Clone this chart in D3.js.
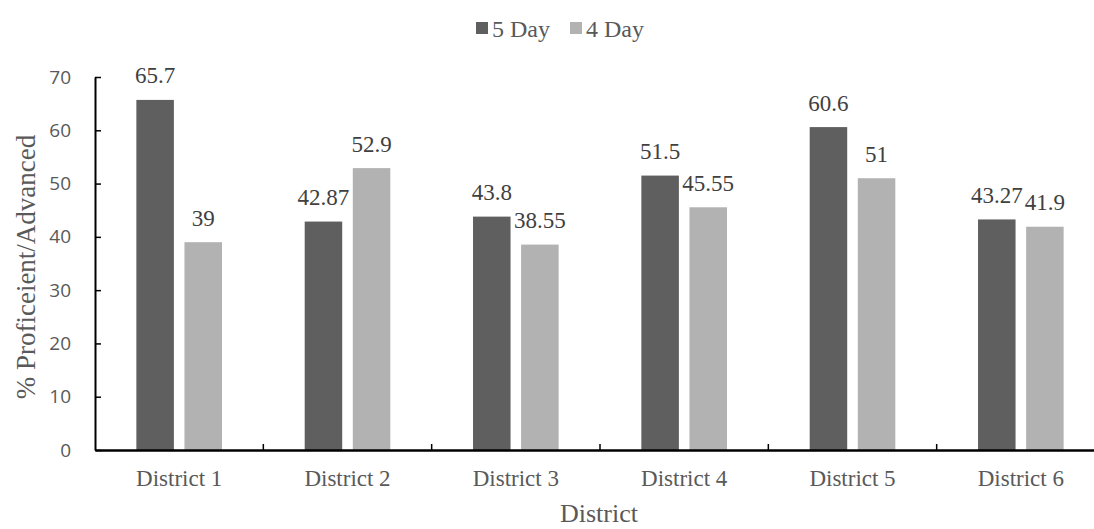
<!DOCTYPE html>
<html>
<head>
<meta charset="utf-8">
<script src="https://d3js.org/d3.v7.min.js"></script>
<style>
  html, body { margin: 0; padding: 0; background: #fff; }
  svg { display: block; }
</style>
</head>
<body>
<div id="chart"></div>
<script>
const categories = ["District 1", "District 2", "District 3", "District 4", "District 5", "District 6"];
const seriesNames = ["5 Day", "4 Day"];
const fiveDay = [65.7, 42.87, 43.8, 51.5, 60.6, 43.27];
const fourDay = [39, 52.9, 38.55, 45.55, 51, 41.9];
const yTicks = [0, 10, 20, 30, 40, 50, 60, 70];
const colors = ["#5f5f5f", "#b2b2b2"];

(function () {
const W = 1094, H = 529;
const mLeft = 95, mRight = 1105, mTop = 77, mBottom = 450;
const serif = "'Liberation Serif', 'Times New Roman', serif";
const sans = "'Open Sans', 'Noto Sans', sans-serif";

const svg = d3.select("#chart").append("svg").attr("width", W).attr("height", H);

const x0 = d3.scaleBand().domain(categories).range([mLeft, mRight]).padding(0);
const x1 = d3.scaleBand().domain(seriesNames).range([0, x0.bandwidth()]).paddingInner(0.22).paddingOuter(0.86);
const y = d3.scaleLinear().domain([0, 70]).range([mBottom, mTop]);

const rows = categories.map((c, i) => ({ cat: c, vals: [
  { s: seriesNames[0], v: fiveDay[i], c: colors[0] },
  { s: seriesNames[1], v: fourDay[i], c: colors[1] }
]}));

// bars
const g = svg.append("g");
const groups = g.selectAll("g.grp").data(rows).enter().append("g")
  .attr("transform", d => `translate(${x0(d.cat)},0)`);
groups.selectAll("rect").data(d => d.vals).enter().append("rect")
  .attr("x", d => x1(d.s)).attr("width", x1.bandwidth())
  .attr("y", d => y(d.v)).attr("height", d => y(0) - y(d.v))
  .attr("fill", d => d.c);
groups.selectAll("text").data(d => d.vals).enter().append("text")
  .attr("x", d => x1(d.s) + x1.bandwidth() / 2)
  .attr("y", d => y(d.v) - 16.5)
  .attr("text-anchor", "middle")
  .attr("font-family", serif).style("font-family", serif).style("font-size", "23px").attr("fill", "#404040")
  .text(d => d.v);

// y axis
const yAxis = d3.axisLeft(y).tickValues(yTicks).tickSizeInner(-6).tickSizeOuter(0).tickPadding(24);
const ya = svg.append("g").attr("transform", `translate(${mLeft},0)`).call(yAxis);
ya.select(".domain").attr("stroke", "#000").attr("stroke-width", 2);
ya.selectAll(".tick line").attr("stroke", "#000").attr("stroke-width", 1.5);
ya.selectAll(".tick text").style("font-family", sans).style("font-size", "19px").attr("fill", "#595959");

// x axis
const xAxis = d3.axisBottom(x0).tickSize(0).tickPadding(0);
const xa = svg.append("g").attr("transform", `translate(0,${mBottom})`).call(xAxis);
xa.select(".domain").attr("stroke", "#000").attr("stroke-width", 2.5);
xa.selectAll(".tick text").attr("dy", 0).attr("y", 36)
  .style("font-family", serif).style("font-size", "23px").attr("fill", "#595959");
// inside category separators
const seps = categories.slice(1).map(c => x0(c));
svg.append("g").selectAll("line").data(seps).enter().append("line")
  .attr("x1", d => d).attr("x2", d => d).attr("y1", mBottom).attr("y2", mBottom - 6)
  .attr("stroke", "#000").attr("stroke-width", 1.5);

// axis titles
svg.append("text").attr("x", 599).attr("y", 522)
  .attr("text-anchor", "middle").style("font-family", serif).style("font-size", "26px")
  .attr("fill", "#595959").text("District");
svg.append("text").attr("transform", `translate(35,267) rotate(-90)`)
  .attr("text-anchor", "middle").style("font-family", serif).style("font-size", "27px")
  .attr("fill", "#595959").text("% Proficeient/Advanced");

// legend
const legendX = [476, 570];
const leg = svg.append("g").selectAll("g").data(seriesNames).enter().append("g")
  .attr("transform", (d, i) => `translate(${legendX[i]},0)`);
leg.append("rect").attr("x", 0).attr("y", 22).attr("width", 12).attr("height", 12)
  .attr("fill", (d, i) => colors[i]);
leg.append("text").attr("x", 16).attr("y", 37)
  .style("font-family", serif).style("font-size", "24px").attr("fill", "#595959")
  .text(d => d);
})();
</script>
</body>
</html>
